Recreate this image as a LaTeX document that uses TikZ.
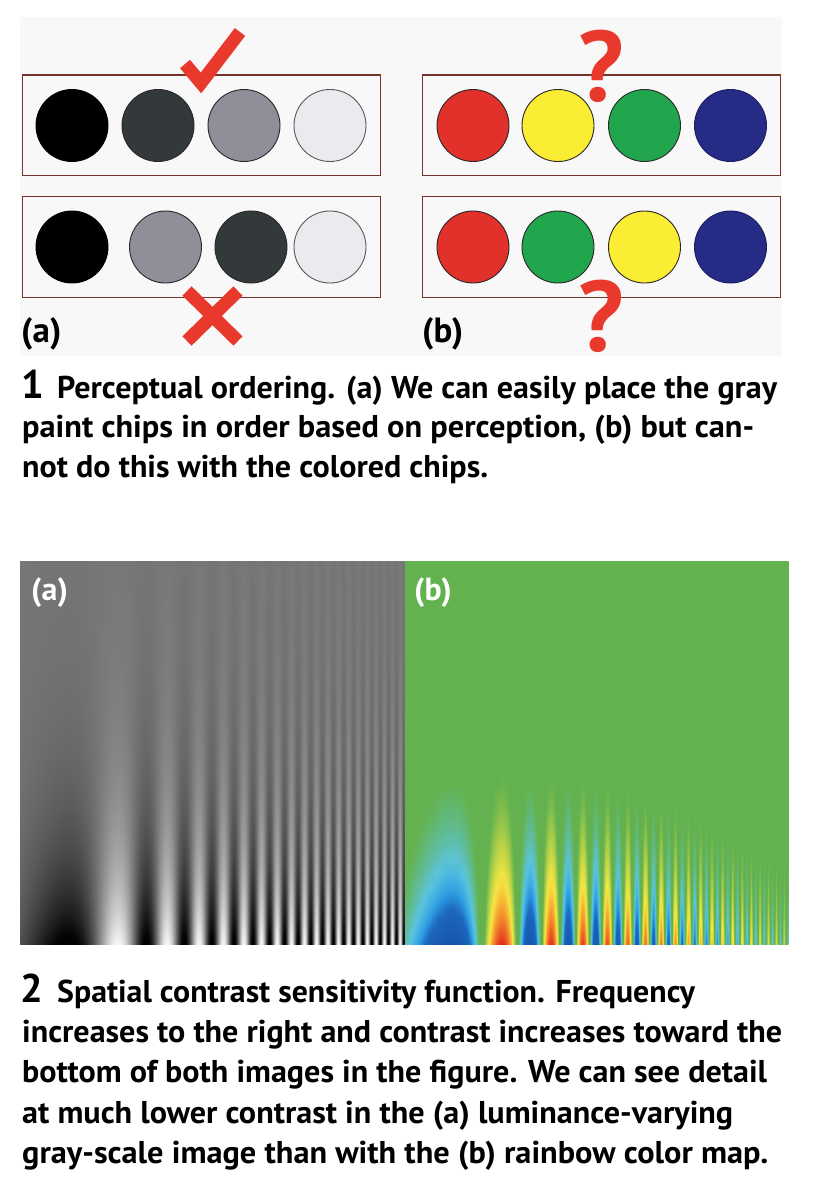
\documentclass[tikz,border=0pt]{standalone}
\usepackage{fontspec}
\setmainfont{PT Sans}
\usepackage{graphicx}
\definecolor{panelbg}{RGB}{248,248,248}
\definecolor{boxred}{RGB}{118,52,42}
\definecolor{chipline}{RGB}{40,40,40}
\definecolor{cblack}{RGB}{0,0,0}
\definecolor{cdark}{RGB}{51,56,59}
\definecolor{cmid}{RGB}{142,143,153}
\definecolor{clight}{RGB}{233,235,238}
\definecolor{cred}{RGB}{226,49,42}
\definecolor{cyellow}{RGB}{251,236,52}
\definecolor{cgreen}{RGB}{34,166,77}
\definecolor{cblue}{RGB}{38,43,134}
\definecolor{markred}{RGB}{232,57,44}
\newcounter{colid}
\newlength\capw
\newcommand\capfont{\fontsize{31.5}{31.5}\selectfont\bfseries}
\newcommand\numfont{\fontsize{40}{40}\selectfont\bfseries}
\newcommand\cmint[8]{%
  \pgfmathsetmacro\cmT{(\vv-#1)/(#2-#1)}%
  \pgfmathsetmacro\cmR{#3+\cmT*(#6-#3)}%
  \pgfmathsetmacro\cmG{#4+\cmT*(#7-#4)}%
  \pgfmathsetmacro\cmB{#5+\cmT*(#8-#5)}%
}
\newcommand\cmapset{%
  \ifdim\vv pt<0.16pt \cmint{0}{0.16}{0.09}{0.33}{0.68}{0.11}{0.40}{0.74}%
  \else\ifdim\vv pt<0.22pt \cmint{0.16}{0.22}{0.11}{0.40}{0.74}{0.17}{0.62}{0.89}%
  \else\ifdim\vv pt<0.30pt \cmint{0.22}{0.30}{0.17}{0.62}{0.89}{0.36}{0.77}{0.87}%
  \else\ifdim\vv pt<0.42pt \cmint{0.30}{0.42}{0.36}{0.77}{0.87}{0.39}{0.70}{0.31}%
  \else\ifdim\vv pt<0.58pt \def\cmR{0.39}\def\cmG{0.70}\def\cmB{0.31}%
  \else\ifdim\vv pt<0.66pt \cmint{0.58}{0.66}{0.39}{0.70}{0.31}{0.72}{0.82}{0.28}%
  \else\ifdim\vv pt<0.74pt \cmint{0.66}{0.74}{0.72}{0.82}{0.28}{0.97}{0.91}{0.26}%
  \else\ifdim\vv pt<0.86pt \cmint{0.74}{0.86}{0.97}{0.91}{0.26}{0.96}{0.56}{0.17}%
  \else \cmint{0.86}{1}{0.96}{0.56}{0.17}{0.88}{0.17}{0.12}%
  \fi\fi\fi\fi\fi\fi\fi\fi
}
\newcommand\docol[2]{%
  \stepcounter{colid}%
  \pgfmathsetmacro\ph{0.3+0.019*(#1+0.5)+2.69*((#1+0.5)/100)^2.78}%
  \pgfmathsetmacro\ss{sin(deg(\ph))}%
  \pgfmathsetmacro\gb{#1>120 ? exp(-((#1-120)/260)^2) : 1}%
  \global\let\gspec\empty
  \global\let\rspec\empty
  \foreach \h [count=\k] in {-200,0,8,16,25,35,45,57,70,85,100,118,138,160,190,230,290,384,600}{%
    \pgfmathsetmacro\hh{max(0,min(384,\h))}%
    \pgfmathsetmacro\cc{exp(-0.0112*\hh)}%
    \pgfmathsetmacro\vv{0.5-0.5*\ss*\cc*\gb}%
    \pgfmathsetmacro\gg{max(0,min(1,0.465-0.5*\ss*\cc))}%
    \pgfmathsetmacro\pp{max(0,min(100,25+\h/7.68))}%
    \cmapset
    \ifnum\k=1
      \xdef\gspec{rgb(\pp bp)=(\gg,\gg,\gg)}%
      \xdef\rspec{rgb(\pp bp)=(\cmR,\cmG,\cmB)}%
    \else
      \xdef\gspec{\gspec; rgb(\pp bp)=(\gg,\gg,\gg)}%
      \xdef\rspec{\rspec; rgb(\pp bp)=(\cmR,\cmG,\cmB)}%
    \fi
  }%
  \edef\tmpdecl{\noexpand\pgfdeclareverticalshading{gs\thecolid}{100bp}{\gspec}%
    \noexpand\pgfdeclareverticalshading{rs\thecolid}{100bp}{\rspec}}\tmpdecl
  \edef\gname{gs\thecolid}\edef\rname{rs\thecolid}%
  \shade[shading=\gname] (20+#1,561) rectangle (20+#1+#2+0.7,944);
  \shade[shading=\rname] (404+#1,561) rectangle (404+#1+#2+0.7,944);
}
\newcommand\fitline[2]{% #1 target width, #2 text
  \capfont\settowidth\capw{#2}%
  \pgfmathsetmacro\capf{(#1)/\capw}%
  \scalebox{\capf}[1]{#2}%
}
\newcommand\capline[5]{%
  \node[anchor=base west, inner sep=0pt] (#1) at (#2,#3) {\fitline{#4-#2}{#5}};
}
\tikzset{
  chip/.style={circle, minimum size=72pt, inner sep=0pt, draw=chipline, line width=0.9pt},
  chipbox/.style={draw=boxred, line width=1.3pt, inner sep=0pt, minimum width=358pt, minimum height=100.7pt},
  markline/.style={draw=markred, line width=13pt, line join=miter, line cap=butt},
  qmark/.style={text=markred, inner sep=0pt, font=\fontsize{100}{100}\selectfont\bfseries},
  lbl/.style={anchor=base west, inner sep=0pt, font=\fontsize{35}{35}\selectfont\bfseries},
  wlbl/.style={anchor=base west, inner sep=0pt, text=white, font=\fontsize{32}{32}\selectfont\bfseries}
}
\begin{document}
\begin{tikzpicture}[x=1pt,y=-1pt]
\useasboundingbox (0,0) rectangle (813,1200);
\fill[white] (0,0) rectangle (813,1200);
% ---------- figure 1 ----------
\fill[panelbg] (20,17) rectangle (782,356);
\node[chipbox] (boxA1) at (201.2,125.3) {};
\node[chipbox] (boxA2) at (201.2,247) {};
\node[chipbox] (boxB1) at (601.7,125.3) {};
\node[chipbox] (boxB2) at (601.7,247) {};
% gray chips
\node[chip, fill=cblack, draw=black] (a11) at (72,125.5) {};
\node[chip, fill=cdark] (a12) at (158,125.5) {};
\node[chip, fill=cmid] (a13) at (244,125.5) {};
\node[chip, fill=clight, draw=black!65] (a14) at (330,125.5) {};
\node[chip, fill=cblack, draw=black] (a21) at (72,247) {};
\node[chip, fill=cmid] (a22) at (165.5,247) {};
\node[chip, fill=cdark] (a23) at (251,247) {};
\node[chip, fill=clight, draw=black!65] (a24) at (330,247) {};
% coloured chips
\node[chip, fill=cred] (b11) at (473,125.5) {};
\node[chip, fill=cyellow] (b12) at (558,125.5) {};
\node[chip, fill=cgreen] (b13) at (644.5,125.5) {};
\node[chip, fill=cblue, draw=cblue!70!black] (b14) at (730.5,125.5) {};
\node[chip, fill=cred] (b21) at (473,247) {};
\node[chip, fill=cgreen] (b22) at (558,247) {};
\node[chip, fill=cyellow] (b23) at (644.5,247) {};
\node[chip, fill=cblue, draw=cblue!70!black] (b24) at (730.5,247) {};
% marks
\draw[markline] (185,64) -- (201,83) -- (240,32);
\draw[markline] (187,291) -- (238,341);
\draw[markline] (238,291) -- (187,341);
\node[qmark] (q1) at (601,66) {?};
\node[qmark] (q2) at (601,316) {?};
\node[lbl] (la) at (21,342) {(a)};
\node[lbl] (lb) at (422,342) {(b)};
% caption 1
\node[anchor=base west, inner sep=0pt, font=\numfont] (n1) at (21,398) {1};
\capline{c1l1}{57}{398}{777}{Perceptual ordering. (a) We can easily place the gray}
\capline{c1l2}{22}{437.5}{754}{paint chips in order based on perception, (b) but can-}
\capline{c1l3}{22}{477}{488}{not do this with the colored chips.}
% ---------- figure 2 ----------
\foreach \u in {0,1,...,383}{\docol{\u}{1}}
\node[wlbl] (ia) at (31,600) {(a)};
\node[wlbl] (ib) at (414,600) {(b)};
% caption 2
\node[anchor=base west, inner sep=0pt, font=\numfont] (n2) at (20,1002) {2};
\capline{c2l1}{57}{1002}{695}{Spatial contrast sensitivity function. Frequency}
\capline{c2l2}{22}{1042}{782}{increases to the right and contrast increases toward the}
\capline{c2l3}{22}{1082}{767}{bottom of both images in the figure. We can see detail}
\capline{c2l4}{22}{1123}{733}{at much lower contrast in the (a) luminance-varying}
\capline{c2l5}{22}{1163}{768}{gray-scale image than with the (b) rainbow color map.}
\end{tikzpicture}
\end{document}
